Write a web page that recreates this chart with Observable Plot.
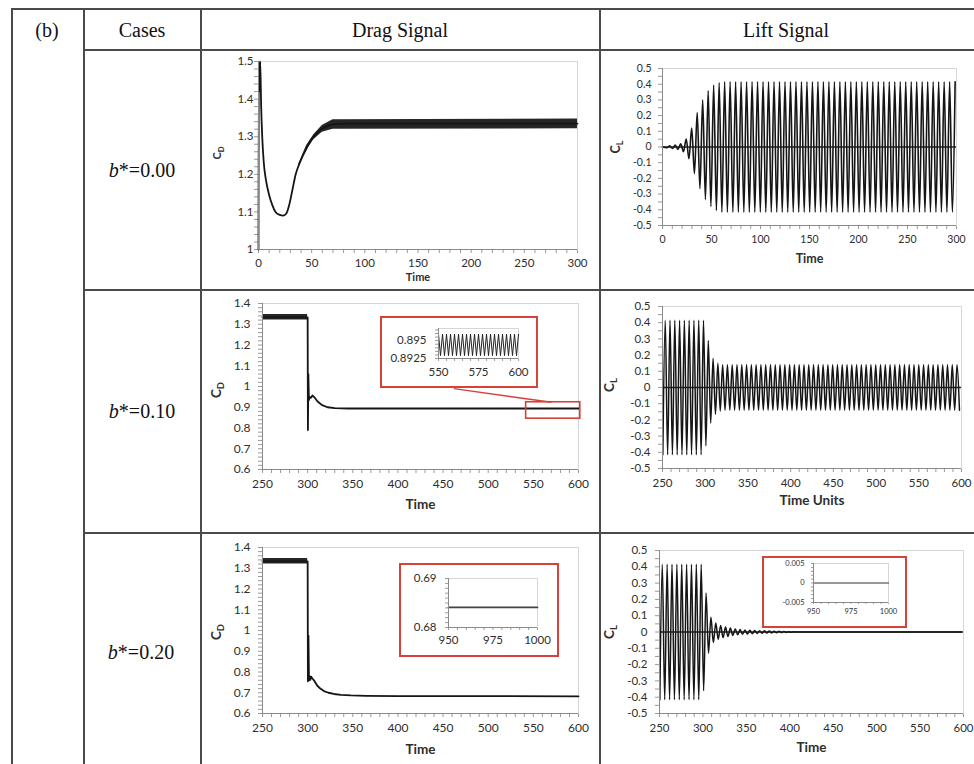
<!DOCTYPE html>
<html><head><meta charset="utf-8">
<script src="https://cdn.jsdelivr.net/npm/d3@7"></script>
<script src="https://cdn.jsdelivr.net/npm/@observablehq/plot@0.6"></script>
<style>
body{margin:0;background:#fff;}
#root{position:relative;width:974px;height:764px;overflow:hidden;background:#fff;}
.ln{position:absolute;background:#4a4a4a;}
.cell{position:absolute;font-family:"Liberation Serif","Times New Roman",serif;font-size:20px;color:#111;transform:translate(-50%,-50%);white-space:nowrap;}
.redbox{position:absolute;border:2px solid #d8413a;background:#fff;box-sizing:border-box;}
#root svg{position:absolute;}
#root svg text{fill:#2e2e2e;}
</style></head>
<body><div id="root"></div>
<script>
// ---------- table text ----------
const headers = ["(b)", "Cases", "Drag Signal", "Lift Signal"];
const caseLabels = ["0.00", "0.10", "0.20"];

// ---------- Drag b*=0.00 ----------
const drag0T = [0, 0.3, 1, 1.6, 2.5, 3.5, 5, 7, 10, 13, 16, 20, 23, 26, 29, 32, 35, 38, 41, 45, 49, 53, 57, 62, 70, 80, 300];
const drag0V = [1.0, 1.5, 1.42, 1.5, 1.38, 1.3, 1.23, 1.185, 1.145, 1.118, 1.1, 1.092, 1.09, 1.095, 1.12, 1.16, 1.2, 1.225, 1.245, 1.268, 1.29, 1.303, 1.315, 1.325, 1.333, 1.335, 1.335];
const drag0BandT = [38, 45, 52, 60, 70, 300];
const drag0BandLo = [1.222, 1.262, 1.292, 1.312, 1.32, 1.321];
const drag0BandHi = [1.228, 1.275, 1.305, 1.33, 1.345, 1.347];

// ---------- Drag b*=0.10 ----------
const drag1T = [250, 300, 300.3, 300.8, 301.4, 302.2, 303.5, 305.3, 307.5, 311, 316, 322, 330, 345, 600];
const drag1V = [1.333, 1.333, 0.79, 1.06, 0.935, 0.95, 0.945, 0.957, 0.948, 0.928, 0.91, 0.9, 0.896, 0.894, 0.894];
const drag1BandT = [250, 300];
const drag1BandLo = [1.321, 1.321];
const drag1BandHi = [1.347, 1.347];
const zoomBox1 = [542, 602, 0.845, 0.924];          // x1, x2, y1, y2 (data units)
const connector1 = [[462, 0.99, 570, 0.924]];
// inset: drag b*=0.10, 550-600
const inset1Start = 550, inset1Half = 1.25, inset1Hi = 0.8959, inset1Lo = 0.8929;

// ---------- Drag b*=0.20 ----------
const drag2T = [250, 300, 300.3, 300.9, 301.5, 302.2, 303, 304, 305, 307, 310.5, 314, 318, 323, 329, 337, 348, 365, 400, 600];
const drag2V = [1.333, 1.333, 0.755, 0.975, 0.76, 0.78, 0.762, 0.778, 0.77, 0.76, 0.735, 0.72, 0.708, 0.7, 0.694, 0.69, 0.687, 0.685, 0.684, 0.683];
const drag2BandT = [250, 300];
const drag2BandLo = [1.321, 1.321];
const drag2BandHi = [1.347, 1.347];
const inset2T = [950, 1000];
const inset2V = [0.6841, 0.6841];

// ---------- Lift b*=0.00 ----------
const lift0First = 4.6, lift0Half = 2.8;
const lift0Trans = [-0.005, 0.008, -0.01, 0.012, -0.015, 0.02, -0.03, 0.05, -0.075, 0.12, -0.17, 0.22, -0.265, 0.30, -0.335, 0.36, -0.38, 0.395, -0.405, 0.41, -0.415];
const lift0Steady = 0.415;

// ---------- Lift b*=0.10 ----------
const lift1First = 250.4, lift1Half = 2.8, lift1Pre = 0.415, lift1PreN = 18;
const lift1Trans = [-0.36, 0.29, -0.22, 0.18, -0.165, 0.15, -0.145, 0.14];
const lift1Steady = 0.14;

// ---------- Lift b*=0.20 ----------
const lift2First = 250.4, lift2Half = 2.8, lift2Pre = 0.415, lift2PreN = 18;
const lift2Trans = [-0.36, 0.24, -0.13, 0.09, -0.065, 0.055, -0.045, 0.04, -0.035, 0.03, -0.027, 0.024, -0.021, 0.019, -0.017, 0.015, -0.014, 0.013, -0.012, 0.011, -0.01, 0.009, -0.0085, 0.008, -0.0075, 0.007, -0.0065, 0.006, -0.0055, 0.005, -0.0045, 0.004, -0.0035, 0.003, -0.0025, 0.002, -0.0015, 0.001];
const lift2Steady = 0;
const inset3T = [950, 1000];
const inset3V = [0, 0];

// ================= helpers =================
const root = document.getElementById("root");
const FONT = "Lato, 'Open Sans', sans-serif";
const RED = "#d8413a";
const zip = (T, V) => T.map((t, i) => ({t, v: V[i]}));
const band = (T, L, H) => T.map((t, i) => ({t, lo: L[i], hi: H[i]}));
// extrema sequence: pre segment alternates starting negative, then transient values, then steady alternation
function extrema(first, half, preAmp, preN, trans, postAmp, tEnd) {
  const vals = [];
  for (let k = 0; k < preN; k++) vals.push(k % 2 === 0 ? -preAmp : preAmp);
  vals.push(...trans);
  let sign = -Math.sign(vals[vals.length - 1]);
  while (first + vals.length * half <= tEnd) { vals.push(sign * postAmp); sign = -sign; }
  return vals.map((v, k) => ({t: first + k * half, v}));
}
function steps(lo, hi, step) {
  const n = Math.round((hi - lo) / step);
  return d3.range(n + 1).map(i => +(lo + i * step).toFixed(6));
}
const fmt = majors => d => majors.some(m => Math.abs(m - d) < 1e-9) ? String(+d.toFixed(6)) : "";

function div(cls, x, y, w, h) {
  const e = document.createElement("div");
  e.className = cls;
  Object.assign(e.style, {left: x + "px", top: y + "px"});
  if (w != null) e.style.width = w + "px";
  if (h != null) e.style.height = h + "px";
  root.append(e);
  return e;
}

function chart(o) {
  const [bx0, by0, bx1, by1] = o.box, [fx0, fy0, fx1, fy1] = o.frame;
  const marks = [
    Plot.frame({stroke: "#d6d6d6"}),
    ...o.marks,
    Plot.ruleX([o.xDomain[0]], {stroke: "#8a8a8a"}),
    Plot.ruleY([o.yDomain[0]], {stroke: "#8a8a8a"})
  ];
  if (o.xTitle) marks.push(Plot.text([o.xTitle], {text: d => d, frameAnchor: "bottom", dy: o.xTitleDy, fontWeight: "bold", fontSize: o.titleFs}));
  const svg = Plot.plot({
    width: bx1 - bx0, height: by1 - by0,
    marginLeft: fx0 - bx0, marginRight: bx1 - fx1, marginTop: fy0 - by0, marginBottom: by1 - fy1,
    style: {fontFamily: FONT, fontSize: o.fs + "px", color: "#9a9a9a", background: "transparent", overflow: "visible"},
    x: {domain: o.xDomain, ticks: o.xTicks, tickFormat: fmt(o.xMajor), tickSize: o.tk ?? 4, tickPadding: o.xPad ?? 7, label: null},
    y: {domain: o.yDomain, ticks: o.yTicks, tickFormat: fmt(o.yMajor), tickSize: o.tk ?? 4, tickPadding: o.yPad ?? 8, label: null},
    marks
  });
  svg.style.left = bx0 + "px";
  svg.style.top = by0 + "px";
  root.append(svg);
  // tick-label font (axis groups may carry their own font attributes)
  d3.select(svg).selectAll("g[aria-label*='axis'] text")
    .style("font-size", o.fs + "px").style("font-family", FONT);
  if (o.yTitle) {
    const [c, s, ax, ay] = o.yTitle;
    const t = d3.select(svg).append("text")
      .attr("transform", `translate(${ax - bx0},${ay - by0}) rotate(-90)`)
      .attr("text-anchor", "middle").attr("font-weight", "bold")
      .attr("font-size", o.titleFs).attr("font-family", FONT);
    t.append("tspan").text(c);
    t.append("tspan").attr("font-size", o.titleFs * 0.7).attr("dy", 3).text(s);
  }
  return svg;
}

// ================= table =================
[[11, 8, 963, 1.6], [83, 49, 891, 1.6], [83, 289, 891, 1.6], [83, 532, 891, 1.6]]
  .forEach(([x, y, w, h]) => div("ln", x, y, w, h));
[11, 83, 200, 599].forEach(x => div("ln", x, 8, 1.6, 760));
const hdrPos = [[47, 30], [142, 30], [400, 30], [786, 30]];
headers.forEach((h, i) => { div("cell", hdrPos[i][0], hdrPos[i][1]).textContent = h; });
const casePos = [[142, 170], [142, 411], [141, 652]];
caseLabels.forEach((c, i) => { div("cell", casePos[i][0], casePos[i][1]).innerHTML = `<i>b</i>*=${c}`; });

// ================= charts =================
const dragAxes = {xDomain: [250, 600], xTicks: steps(250, 600, 10), xMajor: steps(250, 600, 50),
  yDomain: [0.6, 1.4], yTicks: steps(0.6, 1.4, 0.02), yMajor: steps(0.6, 1.4, 0.1)};
const liftAxes = {xDomain: [250, 600], xTicks: steps(250, 600, 10), xMajor: steps(250, 600, 50),
  yDomain: [-0.5, 0.5], yTicks: steps(-0.5, 0.5, 0.05), yMajor: steps(-0.5, 0.5, 0.1)};
const LINE = "#151515";

// Row 1 drag
chart({box: [205, 52, 595, 287], frame: [258, 61, 577, 249],
  xDomain: [0, 300], xTicks: steps(0, 300, 10), xMajor: steps(0, 300, 50),
  yDomain: [1, 1.5], yTicks: steps(1, 1.5, 0.02), yMajor: steps(1, 1.5, 0.1),
  fs: 11.5, yPad: 1, xPad: 5, titleFs: 11, xTitle: "Time", xTitleDy: 31, yTitle: ["C", "D", 221, 153],
  marks: [
    Plot.areaY(band(drag0BandT, drag0BandLo, drag0BandHi), {x: "t", y1: "lo", y2: "hi", fill: "#262626"}),
    Plot.line(zip(drag0T, drag0V), {x: "t", y: "v", stroke: LINE, strokeWidth: 1.8, curve: "monotone-x"})
  ]});

// Row 1 lift
chart({box: [603, 52, 972, 287], frame: [662, 68, 956, 225],
  xDomain: [0, 300], xTicks: steps(0, 300, 10), xMajor: steps(0, 300, 50),
  yDomain: [-0.5, 0.5], yTicks: steps(-0.5, 0.5, 0.05), yMajor: steps(-0.5, 0.5, 0.1),
  fs: 10.5, xPad: 6, yPad: 7, titleFs: 12.5, xTitle: "Time", xTitleDy: 37, yTitle: ["C", "L", 620, 147],
  marks: [
    Plot.ruleY([0], {stroke: "#222", strokeWidth: 1.3}),
    Plot.line([{t: 0, v: 0}, ...extrema(lift0First, lift0Half, 0, 0, lift0Trans, lift0Steady, 300)], {x: "t", y: "v", stroke: LINE, strokeWidth: 1.6, curve: "monotone-x"})
  ]});

// Row 2 drag
chart({box: [205, 292, 595, 530], frame: [262, 303, 578, 469], ...dragAxes,
  fs: 12, xPad: 6, titleFs: 13.5, xTitle: "Time", xTitleDy: 39, yTitle: ["C", "D", 221, 390],
  marks: [
    Plot.areaY(band(drag1BandT, drag1BandLo, drag1BandHi), {x: "t", y1: "lo", y2: "hi", fill: "#262626"}),
    Plot.line(zip(drag1T, drag1V), {x: "t", y: "v", stroke: LINE, strokeWidth: 1.8}),
    Plot.rect([zoomBox1], {x1: d => d[0], x2: d => d[1], y1: d => d[2], y2: d => d[3], stroke: RED, strokeWidth: 1.6, fill: "none"}),
    Plot.link(connector1, {x1: d => d[0], y1: d => d[1], x2: d => d[2], y2: d => d[3], stroke: RED, strokeWidth: 1.4})
  ]});
div("redbox", 380, 316, 158, 72);
chart({box: [380, 316, 538, 388], frame: [438, 328, 518, 358],
  xDomain: [550, 600], xTicks: steps(550, 600, 5), xMajor: [550, 575, 600],
  yDomain: [0.8925, 0.8967], yTicks: steps(0.8925, 0.8965, 0.0005), yMajor: [0.8925, 0.895],
  fs: 11.5, tk: 3, xPad: 6, yPad: 9, titleFs: 11,
  marks: [
    Plot.line(d3.range(41).map(k => ({t: inset1Start + k * inset1Half, v: k % 2 ? inset1Lo : inset1Hi})), {x: "t", y: "v", stroke: "#222", strokeWidth: 1})
  ]});

// Row 2 lift
chart({box: [603, 292, 972, 530], frame: [662, 306, 961, 468], ...liftAxes,
  fs: 11.5, xPad: 6, titleFs: 13.5, xTitle: "Time Units", xTitleDy: 36, yTitle: ["C", "L", 614, 385],
  marks: [
    Plot.ruleY([0], {stroke: "#222", strokeWidth: 1.3}),
    Plot.line(extrema(lift1First, lift1Half, lift1Pre, lift1PreN, lift1Trans, lift1Steady, 600), {x: "t", y: "v", stroke: LINE, strokeWidth: 1.5, curve: "monotone-x"})
  ]});

// Row 3 drag
chart({box: [205, 535, 595, 764], frame: [262, 547, 578, 713], ...dragAxes,
  fs: 12, xPad: 6, titleFs: 13.5, xTitle: "Time", xTitleDy: 40, yTitle: ["C", "D", 221, 632],
  marks: [
    Plot.areaY(band(drag2BandT, drag2BandLo, drag2BandHi), {x: "t", y1: "lo", y2: "hi", fill: "#262626"}),
    Plot.line(zip(drag2T, drag2V), {x: "t", y: "v", stroke: LINE, strokeWidth: 1.8})
  ]});
div("redbox", 399, 563, 160, 94);
chart({box: [399, 563, 559, 657], frame: [448, 578, 537, 627],
  xDomain: [950, 1000], xTicks: steps(950, 1000, 5), xMajor: [950, 975, 1000],
  yDomain: [0.68, 0.69], yTicks: steps(0.68, 0.69, 0.001), yMajor: [0.68, 0.69],
  fs: 11.5, tk: 3, xPad: 5, yPad: 9, titleFs: 11,
  marks: [Plot.line(zip(inset2T, inset2V), {x: "t", y: "v", stroke: "#444", strokeWidth: 1.6})]});

// Row 3 lift
chart({box: [603, 535, 972, 764], frame: [659, 550, 963, 713], ...liftAxes,
  fs: 11.5, xPad: 6, titleFs: 13.5, xTitle: "Time", xTitleDy: 38, yTitle: ["C", "L", 614, 632],
  marks: [
    Plot.ruleY([0], {stroke: "#222", strokeWidth: 1.3}),
    Plot.line(extrema(lift2First, lift2Half, lift2Pre, lift2PreN, lift2Trans, lift2Steady, 600), {x: "t", y: "v", stroke: LINE, strokeWidth: 1.5, curve: "monotone-x"})
  ]});
div("redbox", 762, 556, 145, 72);
chart({box: [762, 556, 907, 628], frame: [813, 563, 888, 602],
  xDomain: [950, 1000], xTicks: steps(950, 1000, 5), xMajor: [950, 975, 1000],
  yDomain: [-0.005, 0.005], yTicks: steps(-0.005, 0.005, 0.001), yMajor: [-0.005, 0, 0.005],
  fs: 7.5, tk: 2, xPad: 4, yPad: 7, titleFs: 8,
  marks: [Plot.line(zip(inset3T, inset3V), {x: "t", y: "v", stroke: "#333", strokeWidth: 1.2})]});
</script>
</body></html>
